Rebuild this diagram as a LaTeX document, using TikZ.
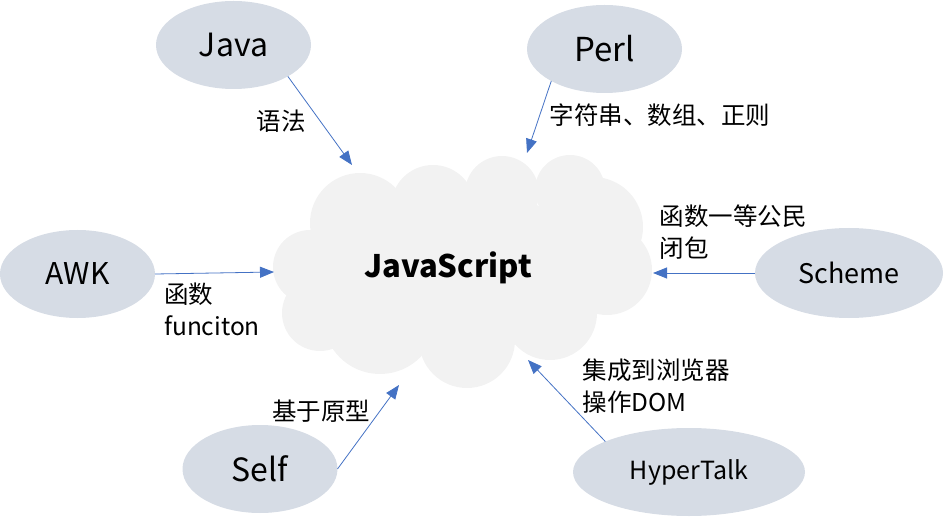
\documentclass[tikz,border=0pt]{standalone}
\usepackage{fontspec}
\setmainfont{Noto Sans CJK SC}
\usepackage{xcolor}
\usepackage{tikz}
\usetikzlibrary{arrows.meta, shapes.geometric, positioning}

\definecolor{langfill}{HTML}{D6DCE5}
\definecolor{cloudfill}{HTML}{F2F2F2}
\definecolor{linkblue}{HTML}{4472C4}

\tikzset{
    lang/.style={ellipse, fill=langfill, inner sep=0pt, outer sep=0pt,
        minimum width=155pt, minimum height=88pt},
    link/.style={draw=linkblue, line width=0.8pt,
        -{Triangle[length=14pt, width=11pt]}},
    note/.style={align=left, inner sep=0pt, font=\fontsize{24.5}{32}\selectfont}
}

\begin{document}
\begin{tikzpicture}[x=1pt, y=-1pt]
    \useasboundingbox (0,0) rectangle (944,518);

    % Vẽ đám mây JavaScript
    \fill[cloudfill] (455,270) ellipse[x radius=140pt, y radius=80pt];
    \foreach \cx/\cy/\r in {360/223/50, 433/207/42, 502/193/37, 570/190/35,
        593/227/50, 607/270/45, 550/313/47, 467/340/48, 380/317/57,
        320/313/38, 310/267/37}
        \fill[cloudfill] (\cx,\cy) circle[radius=\r pt];
    \node[font=\fontsize{31}{36}\selectfont\bfseries] (js) at (448,268) {JavaScript};

    % Các ngôn ngữ
    \node[lang, font=\fontsize{32}{38}\selectfont] (java) at (233.5,45) {Java};
    \node[lang, font=\fontsize{33}{38}\selectfont] (perl) at (604.5,49) {Perl};
    \node[lang, font=\fontsize{30}{36}\selectfont] (awk) at (77.5,274) {AWK};
    \node[lang, minimum width=188pt, minimum height=90pt,
        font=\fontsize{27}{32}\selectfont] (scheme) at (849,273) {Scheme};
    \node[lang, font=\fontsize{32}{38}\selectfont] (self) at (260,469) {Self};
    \node[lang, minimum width=232pt,
        font=\fontsize{25}{30}\selectfont] (hypertalk) at (689,472) {HyperTalk};

    % Điểm đầu mũi tên
    \coordinate (tipJava) at (352,165);
    \coordinate (tipPerl) at (527,153);
    \coordinate (tipAwk) at (274,272);
    \coordinate (tipScheme) at (653,273);
    \coordinate (tipSelf) at (399,385);
    \coordinate (tipHyper) at (528,360);

    % Vẽ mũi tên
    \draw[link] (java.-30) -- (tipJava);
    \draw[link] (perl.211) -- (tipPerl);
    \draw[link] (awk.east) -- (tipAwk);
    \draw[link] (scheme.west) -- (tipScheme);
    \draw[link] (self.east) -- (tipSelf);
    \draw[link] (hypertalk.160) -- (tipHyper);

    % Nhãn
    \node[note] (synLbl) at (281,121) {语法};
    \node[note] (strLbl) at (660,115) {字符串、数组、正则};
    \node[note] (funLbl) at (212,309) {函数\\funciton};
    \node[note] (firstLbl) at (733,232) {函数一等公民\\闭包};
    \node[note] (protoLbl) at (321,411) {基于原型};
    \node[note] (domLbl) at (656,386) {集成到浏览器\\操作DOM};
\end{tikzpicture}
\end{document}
